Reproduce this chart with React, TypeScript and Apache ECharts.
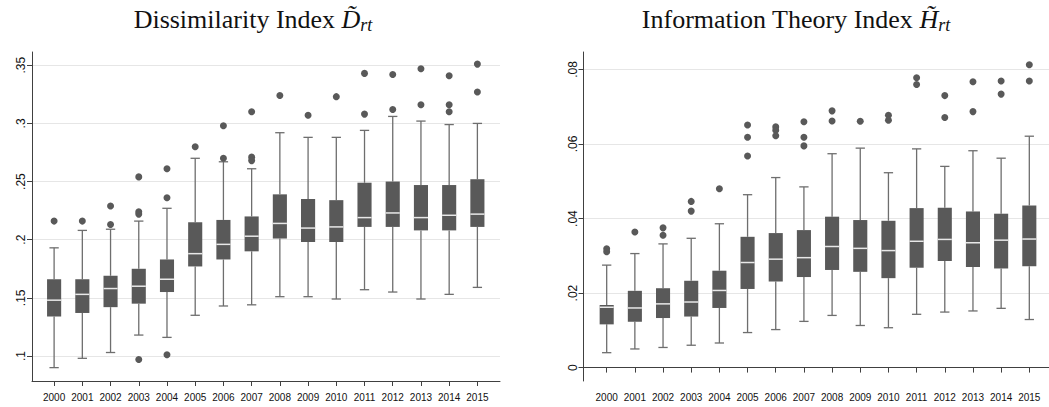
import React, { useEffect, useRef } from 'react';
import * as echarts from 'echarts';

const years = ['2000', '2001', '2002', '2003', '2004', '2005', '2006', '2007', '2008', '2009', '2010', '2011', '2012', '2013', '2014', '2015'];

// Dissimilarity index D~rt
const dLow = [0.090, 0.098, 0.103, 0.118, 0.116, 0.135, 0.143, 0.144, 0.151, 0.151, 0.149, 0.157, 0.155, 0.149, 0.153, 0.159];
const dQ1 = [0.134, 0.137, 0.142, 0.145, 0.155, 0.177, 0.183, 0.190, 0.201, 0.198, 0.198, 0.211, 0.211, 0.208, 0.208, 0.211];
const dMed = [0.148, 0.153, 0.158, 0.160, 0.166, 0.188, 0.196, 0.203, 0.214, 0.210, 0.211, 0.219, 0.223, 0.219, 0.221, 0.222];
const dQ3 = [0.166, 0.166, 0.169, 0.175, 0.183, 0.215, 0.217, 0.220, 0.239, 0.235, 0.234, 0.249, 0.250, 0.247, 0.247, 0.252];
const dHigh = [0.193, 0.208, 0.209, 0.216, 0.227, 0.270, 0.267, 0.261, 0.292, 0.288, 0.288, 0.294, 0.306, 0.302, 0.299, 0.300];
const dOut = [[0.216], [0.216], [0.229, 0.213], [0.254, 0.224, 0.222, 0.097], [0.261, 0.236, 0.101], [0.280], [0.298, 0.270], [0.310, 0.271, 0.268], [0.324], [0.307], [0.323], [0.343, 0.308], [0.342, 0.312], [0.347, 0.316], [0.341, 0.316, 0.310], [0.351, 0.327]];
const dTicks = [0.1, 0.15, 0.2, 0.25, 0.3, 0.35];

// Information theory index H~rt
const hLow = [0.0040, 0.0050, 0.0054, 0.0060, 0.0066, 0.0094, 0.0102, 0.0124, 0.0140, 0.0113, 0.0107, 0.0143, 0.0149, 0.0152, 0.0159, 0.0129];
const hQ1 = [0.0116, 0.0123, 0.0133, 0.0137, 0.0160, 0.0211, 0.0231, 0.0243, 0.0262, 0.0257, 0.0240, 0.0268, 0.0286, 0.0270, 0.0266, 0.0272];
const hMed = [0.0162, 0.0160, 0.0171, 0.0176, 0.0207, 0.0282, 0.0291, 0.0295, 0.0325, 0.0320, 0.0314, 0.0339, 0.0344, 0.0335, 0.0342, 0.0345];
const hQ3 = [0.0168, 0.0206, 0.0213, 0.0233, 0.0260, 0.0351, 0.0361, 0.0369, 0.0405, 0.0396, 0.0394, 0.0428, 0.0429, 0.0419, 0.0413, 0.0435];
const hHigh = [0.0275, 0.0306, 0.0332, 0.0347, 0.0386, 0.0464, 0.0510, 0.0485, 0.0574, 0.0589, 0.0523, 0.0587, 0.0540, 0.0582, 0.0562, 0.0621];
const hOut = [[0.0319, 0.0311], [0.0364], [0.0375, 0.0355], [0.0446, 0.0420], [0.0480], [0.0651, 0.0618, 0.0568], [0.0646, 0.0637, 0.0622], [0.0660, 0.0618, 0.0595], [0.0689, 0.0662], [0.0661], [0.0677, 0.0664], [0.0778, 0.0760], [0.0730, 0.0671], [0.0767, 0.0687], [0.0769, 0.0734], [0.0813, 0.0769]];
const hTicks = [0, 0.02, 0.04, 0.06, 0.08];

const BOX = '#595959';
const WHISK = '#6e6e6e';
const AXIS = '#404040';
const GRIDC = '#e6e6e6';
const SANS = '"Liberation Sans", Arial, sans-serif';
const SERIF = '"Liberation Serif", "Times New Roman", serif';

const fmt = (v: number) => (v === 0 ? '0' : String(v).replace(/^0/, ''));

const renderBox = (_params: any, api: any) => {
  const i = api.value(0);
  const pLow = api.coord([i, api.value(1)]);
  const pQ1 = api.coord([i, api.value(2)]);
  const pMed = api.coord([i, api.value(3)]);
  const pQ3 = api.coord([i, api.value(4)]);
  const pHigh = api.coord([i, api.value(5)]);
  const band = api.size([1, 0])[0];
  const half = band * 0.25;
  const cap = band * 0.165;
  const cx = pMed[0];
  const w = { stroke: WHISK, lineWidth: 1.3 };
  return {
    type: 'group',
    children: [
      { type: 'line', shape: { x1: cx, y1: pHigh[1], x2: cx, y2: pQ3[1] }, style: w },
      { type: 'line', shape: { x1: cx, y1: pQ1[1], x2: cx, y2: pLow[1] }, style: w },
      { type: 'line', shape: { x1: cx - cap, y1: pHigh[1], x2: cx + cap, y2: pHigh[1] }, style: w },
      { type: 'line', shape: { x1: cx - cap, y1: pLow[1], x2: cx + cap, y2: pLow[1] }, style: w },
      { type: 'rect', shape: { x: cx - half, y: pQ3[1], width: half * 2, height: pQ1[1] - pQ3[1] }, style: { fill: BOX } },
      { type: 'line', shape: { x1: cx - half, y1: pMed[1], x2: cx + half, y2: pMed[1] }, style: { stroke: '#e8e8e8', lineWidth: 1.5 } },
    ],
  };
};

const boxData = (lo: number[], q1: number[], md: number[], q3: number[], hi: number[]) =>
  years.map((_, i) => [i, lo[i], q1[i], md[i], q3[i], hi[i]]);
const outData = (out: number[][]) => out.flatMap((vals, i) => vals.map((v) => [i, v]));

const title = (x: number, name: string, sym: string) => ({
  type: 'text',
  x,
  y: 4,
  style: {
    text: `{n|${name} }{m|${sym}\u0303}{s|rt}`,
    align: 'center',
    verticalAlign: 'top',
    rich: {
      n: { fontFamily: SERIF, fontSize: 26, lineHeight: 30, fill: '#111' },
      m: { fontFamily: SERIF, fontSize: 26, lineHeight: 30, fontStyle: 'italic', fill: '#111' },
      s: { fontFamily: SERIF, fontSize: 18, lineHeight: 15, fontStyle: 'italic', fill: '#111', verticalAlign: 'bottom' },
    },
  },
});

const App: React.FC = () => {
  const chartRef = useRef<HTMLDivElement | null>(null);

  useEffect(() => {
    const chart = echarts.init(chartRef.current!, undefined, { renderer: 'svg' });

    const top = 52;
    const bottom = 26;
    const panels = [
      { wideL: 32, wideR: 549, bandL: 40, bandR: 557.5, min: 0.0785, max: 0.3614, ticks: dTicks },
      { wideL: 583.5, wideR: 0, bandL: 592.6, bandR: 5.6, min: -0.0036, max: 0.0847, ticks: hTicks },
    ];

    const grid: any[] = [];
    const xAxis: any[] = [];
    const yAxis: any[] = [];
    panels.forEach((p, k) => {
      grid.push({ left: p.wideL, right: p.wideR, top, bottom });
      grid.push({ left: p.bandL, right: p.bandR, top, bottom });
      xAxis.push({
        type: 'value', gridIndex: 2 * k, min: 0, max: 1,
        axisLine: { show: true, lineStyle: { color: AXIS, width: 1 } },
        axisTick: { show: false }, axisLabel: { show: false }, splitLine: { show: false },
      });
      xAxis.push({
        type: 'category', gridIndex: 2 * k + 1, data: years, boundaryGap: true,
        axisLine: { show: false },
        axisTick: { show: true, alignWithLabel: true, length: 5, lineStyle: { color: AXIS } },
        axisLabel: { fontSize: 10, fontFamily: SANS, color: '#111', margin: 11, interval: 0 },
      });
      yAxis.push({
        type: 'value', gridIndex: 2 * k, min: p.min, max: p.max,
        axisLine: { show: true, lineStyle: { color: AXIS, width: 1 } },
        axisTick: { show: true, length: 5, customValues: p.ticks, lineStyle: { color: AXIS } },
        axisLabel: { customValues: p.ticks, rotate: 90, fontSize: 12, fontFamily: SANS, color: '#111', margin: 5, formatter: fmt },
        splitLine: { show: true, lineStyle: { color: GRIDC, width: 1 } },
      });
      yAxis.push({ type: 'value', gridIndex: 2 * k + 1, min: p.min, max: p.max, show: false, splitLine: { show: false } });
    });

    const panelSeries = (k: number, bd: any[], od: any[]) => [
      {
        type: 'custom', xAxisIndex: 2 * k + 1, yAxisIndex: 2 * k + 1,
        renderItem: renderBox, encode: { x: 0, y: [1, 2, 3, 4, 5] }, data: bd, z: 2,
      },
      {
        type: 'scatter', xAxisIndex: 2 * k + 1, yAxisIndex: 2 * k + 1,
        symbolSize: 7, itemStyle: { color: BOX, opacity: 1 }, data: od, z: 3,
      },
    ];

    chart.setOption({
      animation: false,
      backgroundColor: '#fff',
      grid,
      xAxis,
      yAxis,
      graphic: [title(253, 'Dissimilarity Index', 'D'), title(796, 'Information Theory Index', 'H')],
      series: [
        ...panelSeries(0, boxData(dLow, dQ1, dMed, dQ3, dHigh), outData(dOut)),
        ...panelSeries(1, boxData(hLow, hQ1, hMed, hQ3, hHigh), outData(hOut)),
      ],
    });

    return () => {
      chart.dispose();
    };
  }, []);

  return <div ref={chartRef} style={{ position: 'absolute', left: 0, top: 0, width: 1049, height: 407 }} />;
};

export default App;
